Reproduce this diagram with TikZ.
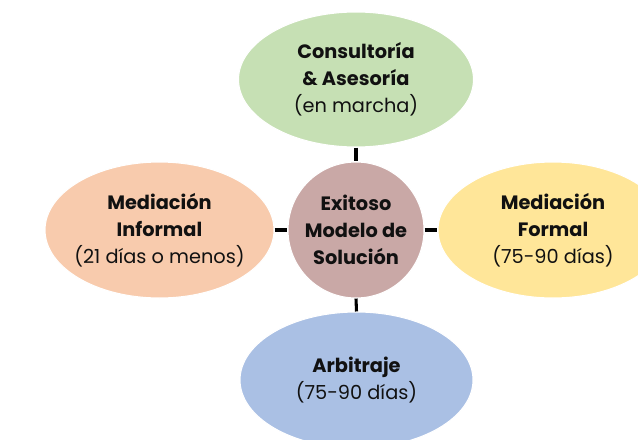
\documentclass[tikz,border=0pt]{standalone}
\usepackage{fontspec}
\setmainfont{Poppins}
\usetikzlibrary{shapes.geometric}
\definecolor{cgreen}{HTML}{C6E0B4}
\definecolor{cpeach}{HTML}{F8CBAD}
\definecolor{cyellow}{HTML}{FFE699}
\definecolor{cblue}{HTML}{AAC0E4}
\definecolor{cmauve}{HTML}{C9A8A6}
\definecolor{ctext}{HTML}{111111}
\tikzset{
  bubble/.style={ellipse, inner xsep=-20pt, inner ysep=0pt, draw=white, line width=0.8pt, align=center,
    text=ctext, font=\fontsize{14.5}{20.2}\selectfont},
  hub/.style={circle, inner sep=0pt, draw=white, line width=0.8pt, align=center,
    text=ctext, font=\fontsize{14.5}{20.2}\selectfont\bfseries, minimum size=102pt},
  link/.style={line width=2.3pt, black}
}
\begin{document}
\begin{tikzpicture}[x=0.75pt,y=-0.75pt]
\useasboundingbox (0,0) rectangle (638,439);
\clip (0,0) rectangle (638,439);
\node[hub, fill=cmauve] (c) at (356,230) {Exitoso\\Modelo de\\Solución};
\node[bubble, fill=cgreen, minimum width=176.25pt, minimum height=101.25pt] (t) at (356,79.5)
  {\textbf{Consultoría}\\\textbf{\& Asesoría}\\(en marcha)};
\node[bubble, fill=cpeach, minimum width=171.75pt, minimum height=102pt] (l) at (159.5,230)
  {\textbf{Mediación}\\\textbf{Informal}\\(21 días o menos)};
\node[bubble, fill=cyellow, minimum width=172.5pt, minimum height=102pt] (r) at (553,230)
  {\textbf{Mediación}\\\textbf{Formal}\\(75-90 días)};
\node[bubble, fill=cblue, minimum width=174.75pt, minimum height=102pt] (b) at (356.5,380)
  {\textbf{Arbitraje}\\(75-90 días)};
\draw[link] (t.south) -- (c.north);
\draw[link] (c.south) -- (b.north);
\draw[link] (l.east) -- (c.west);
\draw[link] (c.east) -- (r.west);
\end{tikzpicture}
\end{document}
